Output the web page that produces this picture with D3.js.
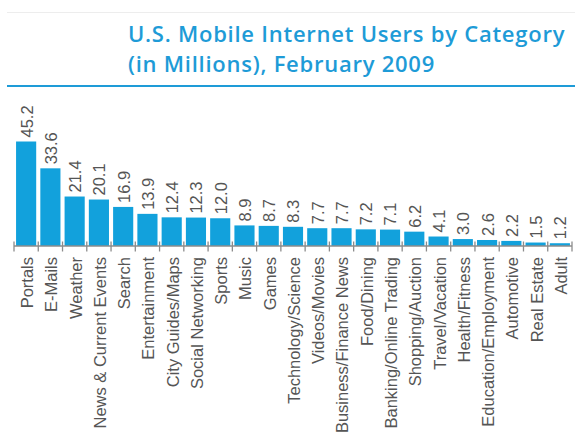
<!DOCTYPE html>
<html><head><meta charset="utf-8">
<script src="https://cdn.jsdelivr.net/npm/d3@7"></script>
<style>body{margin:0;background:#fff;}svg{display:block;}</style>
</head><body>
<svg id="chart" width="575" height="432"></svg>
<script>
const categories = ["Portals","E-Mails","Weather","News & Current Events","Search","Entertainment","City Guides/Maps","Social Networking","Sports","Music","Games","Technology/Science","Videos/Movies","Business/Finance News","Food/Dining","Banking/Online Trading","Shopping/Auction","Travel/Vacation","Health/Fitness","Education/Employment","Automotive","Real Estate","Adult"];
const values = [45.2,33.6,21.4,20.1,16.9,13.9,12.4,12.3,12.0,8.9,8.7,8.3,7.7,7.7,7.2,7.1,6.2,4.1,3.0,2.6,2.2,1.5,1.2];
const titleLines = ["U.S. Mobile Internet Users by Category","(in Millions), February 2009"];

const svg = d3.select("#chart");
const blue = "#12a1dc";
const baseline = 246;

// faint top rule and blue title rule
svg.append("line").attr("x1",7).attr("x2",575).attr("y1",12.5).attr("y2",12.5).attr("stroke","#ededed").attr("stroke-width",1);
svg.append("line").attr("x1",7).attr("x2",575).attr("y1",86).attr("y2",86).attr("stroke","#1e9bd7").attr("stroke-width",2.2);

svg.selectAll("text.title").data(titleLines).join("text")
  .attr("class","title")
  .attr("x",128).attr("y",(d,i)=>42+i*30)
  .attr("fill","#1e9bd7")
  .attr("font-family","'Open Sans', sans-serif")
  .attr("font-weight",600)
  .attr("font-size",22)
  .attr("letter-spacing","0.75px")
  .text(d=>d);

const x = d3.scaleBand().domain(categories).range([14,572]).padding(0);
const y = d3.scaleLinear().domain([0,d3.max(values)]).range([baseline,141.5]);
const data = categories.map((c,i)=>({c, v:values[i]}));
const bw = x.bandwidth();
const barW = bw*0.83;

svg.selectAll("rect.bar").data(data).join("rect")
  .attr("class","bar")
  .attr("x",d=>x(d.c)+(bw-barW)/2)
  .attr("width",barW)
  .attr("y",d=>y(d.v))
  .attr("height",d=>baseline-y(d.v))
  .attr("fill",blue);

// axis
svg.append("line").attr("x1",x.range()[0]).attr("x2",x.range()[1]).attr("y1",baseline).attr("y2",baseline).attr("stroke","#8c8c8c").attr("stroke-width",1.3);
const tickPos = categories.map(c=>x(c)).concat([x.range()[1]]);
svg.selectAll("line.tick").data(tickPos).join("line")
  .attr("class","tick")
  .attr("x1",d=>d).attr("x2",d=>d)
  .attr("y1",baseline-4.5).attr("y2",baseline+5.5)
  .attr("stroke","#8c8c8c").attr("stroke-width",1.3);

// value labels
svg.selectAll("text.val").data(data).join("text")
  .attr("class","val")
  .attr("transform",d=>`translate(${x(d.c)+bw/2+0.5},${y(d.v)-4}) rotate(-90)`)
  .attr("dy","0.36em")
  .attr("text-anchor","start")
  .attr("font-family","Arial, 'Liberation Sans', sans-serif")
  .attr("font-size",16.5)
  .attr("fill","#555")
  .text(d=>d.v.toFixed(1));

// category labels
svg.selectAll("text.cat").data(data).join("text")
  .attr("class","cat")
  .attr("transform",d=>`translate(${x(d.c)+bw/2+1},257) rotate(-90)`)
  .attr("dy","0.36em")
  .attr("text-anchor","end")
  .attr("font-family","Arial, 'Liberation Sans', sans-serif")
  .attr("font-size",16.5)
  .attr("fill","#555")
  .text(d=>d.c);
</script>
</body></html>
